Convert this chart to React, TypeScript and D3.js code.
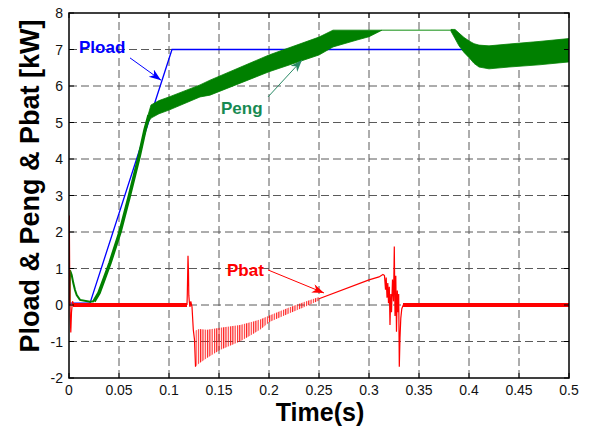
import React from 'react';
import * as d3 from 'd3';

// Axis ticks
const timeTicks = [0, 0.05, 0.1, 0.15, 0.2, 0.25, 0.3, 0.35, 0.4, 0.45, 0.5];
const powerTicks = [-2, -1, 0, 1, 2, 3, 4, 5, 6, 7, 8];

// Load power demand (kW)
const ploadT = [0, 0.021, 0.103, 0.5];
const ploadKW = [0.05, 0.05, 7.0, 7.0];

// Engine power: start-up transient and ramp (kW)
const pengStartT = [0.0005, 0.001, 0.0027, 0.0043, 0.006, 0.0077, 0.011, 0.021, 0.025];
const pengStartKW = [0, 0.95, 0.82, 0.6, 0.41, 0.27, 0.14, 0.09, 0.1];
const pengRampT = [0.025, 0.03, 0.035, 0.041, 0.051, 0.06, 0.07, 0.076, 0.08];
const pengRampKW = [0.1, 0.33, 0.7, 1.15, 2.0, 2.95, 4.05, 4.8, 5.2];

// Engine power ripple envelope while tracking (kW)
const pengBandT = [0.079, 0.082, 0.09, 0.1, 0.131, 0.141, 0.2, 0.25, 0.264, 0.288, 0.3, 0.313];
const pengBandHi = [5.2, 5.48, 5.6, 5.7, 6.03, 6.16, 6.85, 7.34, 7.53, 7.53, 7.53, 7.53];
const pengBandLo = [5.0, 5.12, 5.24, 5.34, 5.7, 5.75, 6.39, 6.85, 7.07, 7.26, 7.35, 7.53];

// Engine power at its limit (kW)
const pengFlatT = [0.313, 0.384];
const pengFlatKW = [7.53, 7.53];

// Engine power ripple envelope after the limit is released (kW)
const pengTailT = [0.382, 0.386, 0.39, 0.395, 0.401, 0.405, 0.41, 0.42, 0.44, 0.47, 0.5];
const pengTailHi = [7.55, 7.55, 7.45, 7.33, 7.22, 7.16, 7.12, 7.1, 7.15, 7.22, 7.3];
const pengTailLo = [7.5, 7.3, 7.1, 6.92, 6.75, 6.62, 6.52, 6.47, 6.52, 6.58, 6.66];

// Battery power traces (kW)
const pbatStartT = [0, 0.0003, 0.0007, 0.0012, 0.0018, 0.0025, 0.0035, 0.005];
const pbatStartKW = [0, 2.45, 0.8, -0.3, -0.75, -0.2, 0.1, 0.0];
const pbatIdleAT = [0.004, 0.118];
const pbatIdleAKW = [0.0, 0.0];
const pbatSpikeT = [0.118, 0.1183, 0.119, 0.1195, 0.1198, 0.1203, 0.121, 0.1218, 0.123, 0.1243, 0.1255, 0.1265];
const pbatSpikeKW = [0.0, 0.3, 1.35, 0.9, 0.27, 0.1, -0.05, 0.1, -0.05, -0.68, -0.95, -1.69];
const pbatOscT = [0.1265, 0.13, 0.138, 0.151, 0.171, 0.191, 0.201, 0.22, 0.235, 0.25];
const pbatOscHi = [-0.7, -0.66, -0.68, -0.62, -0.55, -0.4, -0.28, -0.07, 0.08, 0.22];
const pbatOscLo = [-1.69, -1.6, -1.45, -1.23, -1.0, -0.68, -0.46, -0.23, -0.06, 0.12];
const pbatRiseT = [0.25, 0.3, 0.31, 0.3143];
const pbatRiseKW = [0.17, 0.69, 0.77, 0.84];
const pbatBurstT = [0.3143, 0.3155, 0.3165, 0.3172, 0.318, 0.3188, 0.3195, 0.3203, 0.321, 0.3218, 0.3225, 0.3235, 0.3245, 0.3253, 0.326, 0.3268, 0.3275, 0.3283, 0.329, 0.3297, 0.3303, 0.331, 0.3318, 0.3328, 0.3343, 0.336];
const pbatBurstKW = [0.84, 0.8, 0.42, 0.75, 0.2, 0.6, 0.05, 0.5, -0.55, 0.3, -0.2, 0.7, 0.1, 1.6, -0.3, 0.8, -0.73, 0.4, -0.2, 0.3, -1.69, -0.9, -0.36, -0.1, 0.0, 0.02];
const pbatIdleBT = [0.334, 0.5];
const pbatIdleBKW = [0.0, 0.0];

const FONT = '"Liberation Sans", Arial, Helvetica, sans-serif';

export default function App() {
  const x = d3.scaleLinear().domain([0, 0.5]).range([69, 569]);
  const y = d3.scaleLinear().domain([-2, 8]).range([378, 13]);

  const path = (t: number[], v: number[]) =>
    d3.line<number>().x((_, i) => x(t[i])).y((_, i) => y(v[i]))(t) || '';
  const band = (t: number[], hi: number[], lo: number[]) =>
    d3.area<number>().x((_, i) => x(t[i])).y0((_, i) => y(lo[i])).y1((_, i) => y(hi[i]))(t) || '';

  const [x0, x1] = x.range();
  const [yb, yt] = y.range();

  const arrow = (id: string, color: string) => (
    <marker id={id} markerUnits="userSpaceOnUse" markerWidth={13} markerHeight={10} refX={12} refY={4.5} orient="auto">
      <path d="M0,0 L12,4.5 L0,9 L3.5,4.5 Z" fill={color} />
    </marker>
  );

  return (
    <svg width={589} height={431} style={{ position: 'absolute', left: 0, top: 0, background: '#fff' }}>
      <defs>
        <clipPath id="plotArea">
          <rect x={x0} y={yt} width={x1 - x0} height={yb - yt} />
        </clipPath>
        <pattern id="pbatRipple" patternUnits="userSpaceOnUse" width={2.3} height={8}>
          <line x1={0.6} y1={0} x2={0.6} y2={8} stroke="#ff0000" strokeWidth={1} />
        </pattern>
        {arrow('arrowBlue', '#0000ff')}
        {arrow('arrowGreen', '#2a8a66')}
        {arrow('arrowRed', '#ff0000')}
      </defs>

      {/* grid */}
      <g stroke="#5a5a5a" strokeWidth={1} strokeDasharray="8,4">
        {timeTicks.slice(1, -1).map(t => (
          <line key={'gx' + t} x1={x(t)} x2={x(t)} y1={yb} y2={yt} />
        ))}
        {powerTicks.slice(1, -1).map(v => (
          <line key={'gy' + v} x1={x0} x2={x1} y1={y(v)} y2={y(v)} />
        ))}
      </g>

      {/* series */}
      <g clipPath="url(#plotArea)">
        <path d={path(ploadT, ploadKW)} fill="none" stroke="#0000ff" strokeWidth={1.3} />

        <path d={path(pengStartT, pengStartKW)} fill="none" stroke="#008000" strokeWidth={2} />
        <path d={path(pengRampT, pengRampKW)} fill="none" stroke="#008000" strokeWidth={3.5} />
        <path d={band(pengBandT, pengBandHi, pengBandLo)} fill="#008000" stroke="#008000" strokeWidth={0.8} />
        <path d={path(pengFlatT, pengFlatKW)} fill="none" stroke="#5fb35f" strokeWidth={1.5} />
        <path d={band(pengTailT, pengTailHi, pengTailLo)} fill="#008000" stroke="#008000" strokeWidth={0.8} />

        <path d={path(pbatStartT, pbatStartKW)} fill="none" stroke="#ff0000" strokeWidth={1.2} />
        <path d={path(pbatIdleAT, pbatIdleAKW)} fill="none" stroke="#ff0000" strokeWidth={4} />
        <path d={path(pbatSpikeT, pbatSpikeKW)} fill="none" stroke="#ff0000" strokeWidth={1.2} />
        <path d={band(pbatOscT, pbatOscHi, pbatOscLo)} fill="url(#pbatRipple)" stroke="none" />
        <path d={path(pbatRiseT, pbatRiseKW)} fill="none" stroke="#ff0000" strokeWidth={1.2} />
        <path d={path(pbatBurstT, pbatBurstKW)} fill="none" stroke="#ff0000" strokeWidth={1.2} />
        <path d={path(pbatIdleBT, pbatIdleBKW)} fill="none" stroke="#ff0000" strokeWidth={4} />
      </g>

      {/* frame and inward ticks */}
      <rect x={x0} y={yt} width={x1 - x0} height={yb - yt} fill="none" stroke="#000" strokeWidth={1.5} />
      <g stroke="#000" strokeWidth={1}>
        {timeTicks.map(t => (
          <g key={'tx' + t}>
            <line x1={x(t)} x2={x(t)} y1={yb} y2={yb - 5} />
            <line x1={x(t)} x2={x(t)} y1={yt} y2={yt + 5} />
          </g>
        ))}
        {powerTicks.map(v => (
          <g key={'ty' + v}>
            <line x1={x0} x2={x0 + 5} y1={y(v)} y2={y(v)} />
            <line x1={x1} x2={x1 - 5} y1={y(v)} y2={y(v)} />
          </g>
        ))}
      </g>

      {/* tick labels */}
      <g fontFamily={FONT} fontSize={14} fill="#111">
        {timeTicks.map(t => (
          <text key={'lx' + t} x={x(t)} y={395} textAnchor="middle">{String(t)}</text>
        ))}
        {powerTicks.map(v => (
          <text key={'ly' + v} x={63} y={y(v) + 5} textAnchor="end">{String(v)}</text>
        ))}
      </g>

      {/* axis titles */}
      <text x={(x0 + x1) / 2 + 1} y={421} textAnchor="middle" fontFamily={FONT} fontWeight="bold" fontSize={25} fill="#000">Time(s)</text>
      <text transform={`translate(39,186) rotate(-90)`} textAnchor="middle" fontFamily={FONT} fontWeight="bold" fontSize={27} fill="#000">Pload &amp; Peng &amp; Pbat [kW]</text>

      {/* annotations */}
      <g fontFamily={FONT} fontWeight="bold" fontSize={17}>
        <text x={x(0.010)} y={y(6.9)} fill="#0000ff">Pload</text>
        <line x1={x(0.061)} y1={y(6.77)} x2={x(0.092)} y2={y(6.16)} stroke="#0000ff" strokeWidth={1} markerEnd="url(#arrowBlue)" />

        <text x={x(0.152)} y={y(5.23)} fill="#178a52">Peng</text>
        <line x1={x(0.199)} y1={y(5.7)} x2={x(0.233)} y2={y(6.71)} stroke="#2a8a66" strokeWidth={1} markerEnd="url(#arrowGreen)" />

        <text x={x(0.158)} y={y(0.79)} fill="#ff0000">Pbat</text>
        <line x1={x(0.199)} y1={y(0.96)} x2={x(0.255)} y2={y(0.33)} stroke="#ff0000" strokeWidth={1} markerEnd="url(#arrowRed)" />
      </g>
    </svg>
  );
}
